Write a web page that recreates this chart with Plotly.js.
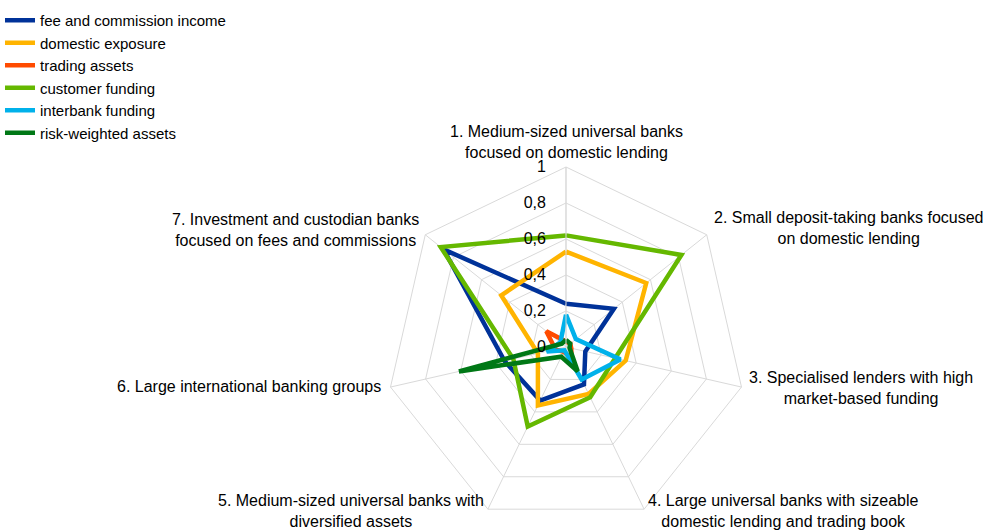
<!DOCTYPE html>
<html>
<head>
<meta charset="utf-8">
<script src="https://cdn.plot.ly/plotly-3.0.1.min.js"></script>
<style>html,body{margin:0;padding:0;background:#fff;}#chart{width:984px;height:531px;}</style>
</head>
<body>
<div id="chart"></div>
<script>
const categories = [
  "1. Medium-sized universal banks<br>focused on domestic lending",
  "2. Small deposit-taking banks focused<br>on domestic lending",
  "3. Specialised lenders with high<br>market-based funding",
  "4. Large universal banks with sizeable<br>domestic lending and trading book",
  "5. Medium-sized universal banks with<br>diversified assets",
  "6. Large international banking groups",
  "7. Investment and custodian banks<br>focused on fees and commissions"
];
const feeIncome      = [0.24, 0.34, 0.11, 0.23, 0.33, 0.35, 0.87];
const domesticExp    = [0.53, 0.57, 0.34, 0.29, 0.36, 0.16, 0.46];
const tradingAssets  = [0.03, 0.03, 0.03, 0.07, 0.03, 0.06, 0.14];
const customerFund   = [0.62, 0.82, 0.28, 0.31, 0.49, 0.30, 0.89];
const interbankFund  = [0.18, 0.07, 0.31, 0.20, 0.02, 0.11, 0.04];
const rwa            = [0.04, 0.03, 0.02, 0.15, 0.06, 0.61, 0.03];
const radialTicks    = [0, 0.2, 0.4, 0.6, 0.8, 1];

const seriesNames  = ["fee and commission income","domestic exposure","trading assets","customer funding","interbank funding","risk-weighted assets"];
const seriesValues = [feeIncome, domesticExp, tradingAssets, customerFund, interbankFund, rwa];
const colors = ["#003299","#FFB400","#FF4B00","#65B800","#00B1EA","#007816"];

const closed = a => a.concat([a[0]]);
const data = seriesNames.map((n,i)=>({
  type:'scatterpolar', mode:'lines', name:n,
  r: closed(seriesValues[i]), theta: closed(categories),
  line:{color:colors[i], width:4.5}, hoverinfo:'none'
}));

// label placement (pixels) for the category labels
const W = 984, H = 531;
const labelPlacement = [
  {x:566, y:142, xa:'center'},
  {x:848, y:228, xa:'center'},
  {x:861, y:388, xa:'center'},
  {x:783, y:511, xa:'center'},
  {x:351, y:511, xa:'center'},
  {x:383, y:387, xa:'right'},
  {x:295, y:230, xa:'center'}
];
const annotations = categories.map((c,i)=>({
  text:c, xref:'paper', yref:'paper', showarrow:false,
  x:labelPlacement[i].x/W, y:1-labelPlacement[i].y/H,
  xanchor:labelPlacement[i].xa, yanchor:'middle', align:'center',
  font:{size:16, color:'#000'}
}));

const layout = {
  width:W, height:H,
  margin:{l:0,r:0,t:0,b:0},
  paper_bgcolor:'#fff',
  separators:', ',
  font:{family:'"Liberation Sans", Arial, sans-serif', size:16, color:'#000'},
  showlegend:true,
  legend:{x:0.0, y:1-4/H, xanchor:'left', yanchor:'top', font:{size:15}, bgcolor:'rgba(0,0,0,0)', tracegroupgap:0},
  annotations:annotations,
  polar:{
    domain:{x:[386/W, 746/W], y:[1-527/H, 1-167/H]},
    gridshape:'linear',
    bgcolor:'#fff',
    angularaxis:{
      rotation:90, direction:'clockwise', type:'category',
      showline:true, linecolor:'#d9d9d9', linewidth:1,
      gridcolor:'#d9d9d9', gridwidth:1, ticks:'', showticklabels:false
    },
    radialaxis:{
      range:[0,1], tickvals:radialTicks, angle:90, side:'counterclockwise',
      showline:true, linecolor:'#d9d9d9', gridcolor:'#d9d9d9',
      ticks:'outside', ticklen:14, tickcolor:'rgba(0,0,0,0)',
      tickfont:{size:16}, tickangle:90
    }
  }
};
Plotly.newPlot('chart', data, layout, {displayModeBar:false, staticPlot:true});
</script>
</body>
</html>
